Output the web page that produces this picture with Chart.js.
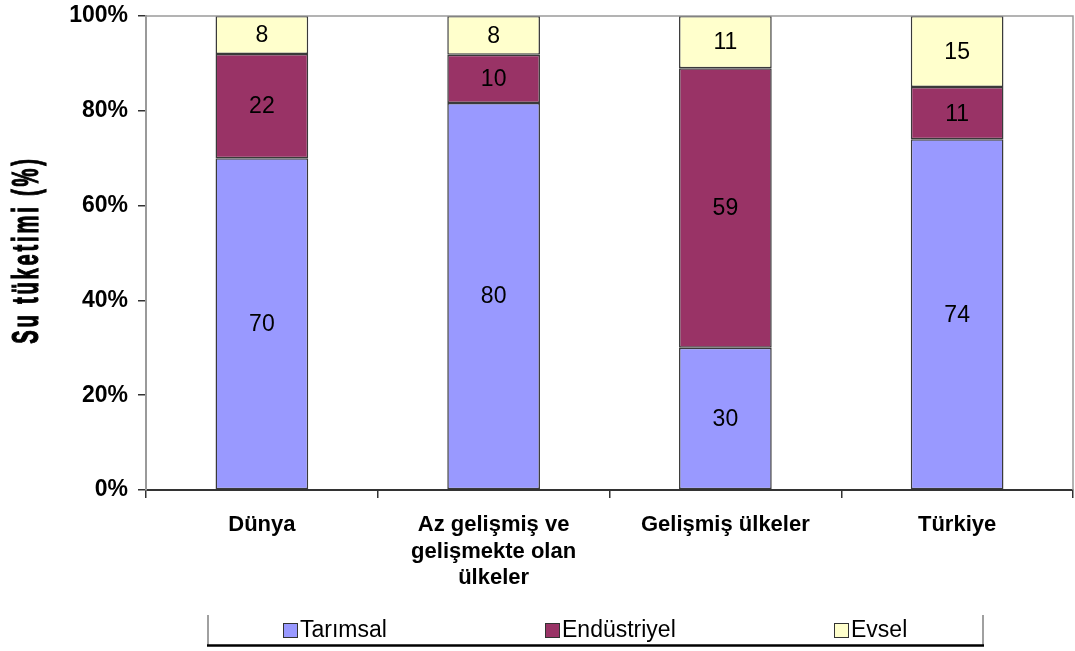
<!DOCTYPE html>
<html>
<head>
<meta charset="utf-8">
<script src="https://cdn.jsdelivr.net/npm/chart.js@4/dist/chart.umd.min.js"></script>
<style>
  html, body { margin: 0; padding: 0; background: #ffffff; }
  canvas { display: block; }
</style>
</head>
<body>
<canvas id="chart" width="1075" height="651"></canvas>
<script>
// Water use by sector (raw shares), shown as 100% stacked columns
const categories = ['Dünya', ['Az gelişmiş ve', 'gelişmekte olan', 'ülkeler'], 'Gelişmiş ülkeler', 'Türkiye'];
const tarimsal = [70, 80, 30, 74];
const endustriyel = [22, 10, 59, 11];
const evsel = [8, 8, 11, 15];
const seriesNames = ['Tarımsal', 'Endüstriyel', 'Evsel'];
const yTickValues = [0, 20, 40, 60, 80, 100];
const axisTitle = 'Su tüketimi (%)';

const colors = ['#9999FF', '#993366', '#FFFFCC'];
const rawSeries = [tarimsal, endustriyel, evsel];

// each column is normalised to 100%
const totals = categories.map((_, i) => rawSeries.reduce((s, arr) => s + arr[i], 0));
const toShare = arr => arr.map((v, i) => v / totals[i] * 100);

const BOLD = "'Liberation Sans', Arial, sans-serif";

// value labels in the middle of each segment
const segmentLabels = {
  id: 'segmentLabels',
  afterDatasetsDraw(chart) {
    const ctx = chart.ctx;
    ctx.save();
    ctx.font = "23px 'Liberation Sans', Arial, sans-serif";
    ctx.fillStyle = '#000';
    ctx.textAlign = 'center';
    ctx.textBaseline = 'middle';
    chart.data.datasets.forEach((ds, di) => {
      const meta = chart.getDatasetMeta(di);
      meta.data.forEach((bar, i) => {
        const p = bar.getProps(['x', 'y', 'base'], true);
        ctx.fillText(String(ds.raw[i]), p.x, (p.y + p.base) / 2 + 1);
      });
    });
    ctx.restore();
  }
};

// plot frame: grey top and right edges
const frame = {
  id: 'frame',
  afterDraw(chart) {
    const { ctx, chartArea: a } = chart;
    ctx.save();
    ctx.strokeStyle = '#9a9a9a';
    ctx.lineWidth = 1.5;
    ctx.beginPath();
    ctx.moveTo(a.left, a.top);
    ctx.lineTo(a.right, a.top);
    ctx.lineTo(a.right, a.bottom);
    ctx.stroke();
    ctx.restore();
  }
};

// rotated, condensed axis title
const yTitle = {
  id: 'yTitle',
  afterDraw(chart) {
    const ctx = chart.ctx;
    ctx.save();
    ctx.translate(28, 250);
    ctx.rotate(-Math.PI / 2);
    ctx.scale(0.56, 1);
    ctx.font = "bold 36px " + BOLD;
    ctx.fillStyle = '#000';
    ctx.strokeStyle = '#000';
    ctx.lineWidth = 1.2;
    ctx.textAlign = 'center';
    ctx.textBaseline = 'middle';
    ctx.letterSpacing = '5px';
    ctx.fillText(axisTitle, 0, 0);
    ctx.strokeText(axisTitle, 0, 0);
    ctx.restore();
  }
};

// legend box below the plot
const legendBox = {
  id: 'legendBox',
  afterDraw(chart) {
    const ctx = chart.ctx;
    ctx.save();
    ctx.strokeStyle = '#a0a0a0';
    ctx.lineWidth = 2;
    ctx.beginPath();
    ctx.moveTo(208, 615); ctx.lineTo(208, 645);
    ctx.moveTo(983, 615); ctx.lineTo(983, 645);
    ctx.stroke();
    ctx.strokeStyle = '#000';
    ctx.lineWidth = 2.5;
    ctx.beginPath();
    ctx.moveTo(207, 645.5); ctx.lineTo(984, 645.5);
    ctx.stroke();

    const boxX = [283, 545, 834];
    ctx.font = "23px 'Liberation Sans', Arial, sans-serif";
    ctx.textBaseline = 'middle';
    ctx.textAlign = 'left';
    chart.data.datasets.forEach((ds, i) => {
      ctx.fillStyle = ds.backgroundColor;
      ctx.fillRect(boxX[i], 623, 14, 14);
      ctx.strokeStyle = '#333';
      ctx.lineWidth = 1;
      ctx.strokeRect(boxX[i] + 0.5, 623.5, 14, 14);
      ctx.fillStyle = '#000';
      ctx.fillText(ds.label, boxX[i] + 17, 631);
    });
    ctx.restore();
  }
};

new Chart(document.getElementById('chart'), {
  type: 'bar',
  data: {
    labels: categories,
    datasets: rawSeries.map((arr, i) => ({
      label: seriesNames[i],
      data: toShare(arr),
      raw: arr,
      backgroundColor: colors[i],
      borderColor: '#3a3a3a',
      borderWidth: 1.5,
      borderSkipped: false,
      categoryPercentage: 1,
      barPercentage: 0.4
    }))
  },
  options: {
    responsive: false,
    devicePixelRatio: 1,
    animation: false,
    layout: { padding: { top: 16, right: 2, left: 0, bottom: 0 } },
    plugins: {
      legend: { display: false },
      tooltip: { enabled: false }
    },
    scales: {
      x: {
        stacked: true,
        afterFit(scale) { scale.height = 161; },
        grid: {
          display: true,
          offset: true,
          drawOnChartArea: false,
          tickLength: 8,
          color: '#333',
          lineWidth: 1.5
        },
        border: { display: true, color: '#333', width: 2 },
        ticks: {
          color: '#000',
          padding: 14,
          maxRotation: 0,
          autoSkip: false,
          font: { family: BOLD, size: 22, weight: 'bold', lineHeight: 1.2 }
        }
      },
      y: {
        stacked: true,
        min: 0,
        max: 100,
        afterFit(scale) { scale.width = 146; scale.paddingTop = 0; scale.paddingBottom = 0; },
        afterBuildTicks(scale) { scale.ticks = yTickValues.map(v => ({ value: v })); },
        grid: {
          display: true,
          drawOnChartArea: false,
          tickLength: 8,
          color: '#333',
          lineWidth: 1.5
        },
        border: { display: true, color: '#9a9a9a', width: 2 },
        ticks: {
          color: '#000',
          padding: 10,
          callback: v => v + '%',
          font: { family: BOLD, size: 23, weight: 'bold', lineHeight: 0.4 }
        }
      }
    }
  },
  plugins: [segmentLabels, frame, yTitle, legendBox]
});
</script>
</body>
</html>
